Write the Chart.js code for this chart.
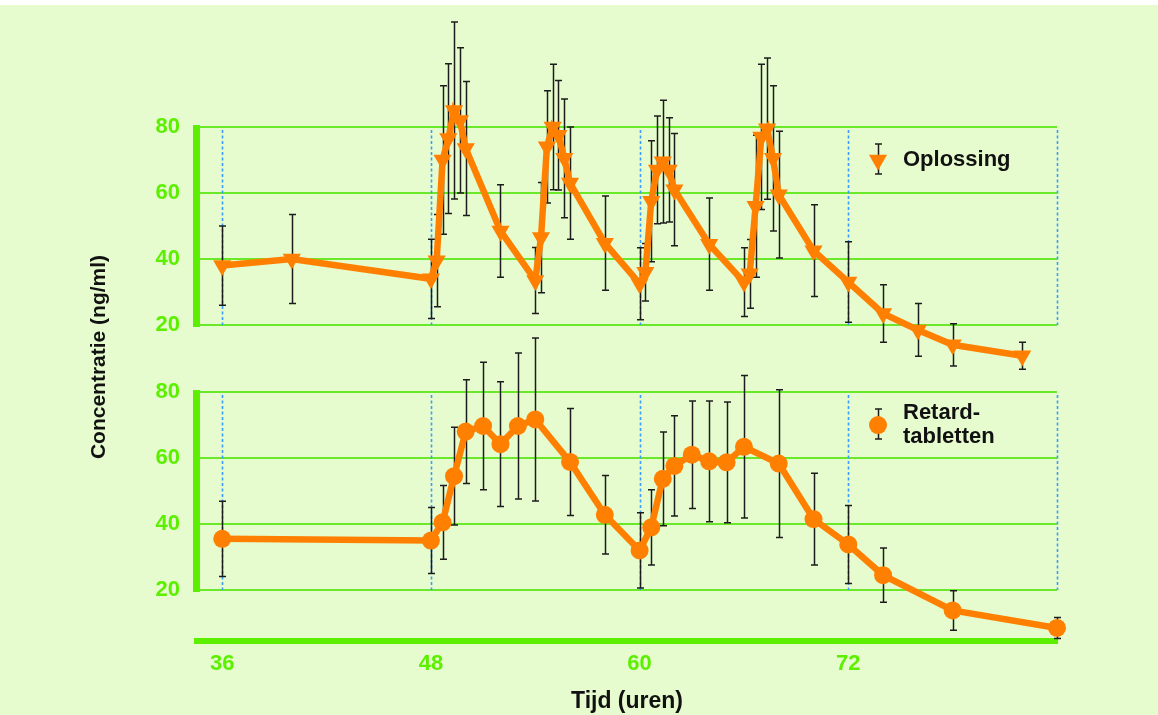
<!DOCTYPE html>
<html>
<head>
<meta charset="utf-8">
<script src="https://cdn.jsdelivr.net/npm/chart.js@4.4.1/dist/chart.umd.min.js"></script>
<style>
  html, body { margin: 0; padding: 0; background: #fff; }
  #wrap { width: 1158px; height: 715px; }
</style>
</head>
<body>
<div id="wrap"><canvas id="conc" width="1158" height="715"></canvas></div>
<script>
// Plasma concentration after oral solution vs. sustained-release tablets.

// Oplossing (oral solution) - hours, mean ng/ml, SD
const hoursOpl = [36, 40, 48, 48.33, 48.67, 49, 49.33, 49.67, 50, 52,
  54, 54.33, 54.67, 55, 55.33, 55.67, 56, 58,
  60, 60.33, 60.67, 61, 61.33, 61.67, 62, 64,
  66, 66.33, 66.67, 67, 67.33, 67.67, 68, 70,
  72, 74, 76, 78, 82];
const concOpl = [38, 40, 34, 39.5, 70, 76.5, 85, 82, 73.5, 48.5,
  33.5, 46.5, 74, 80, 77.5, 70.5, 63, 44.8,
  32.5, 36, 57.5, 67, 69.5, 67, 61, 44.5,
  33, 35.5, 56, 77, 79.5, 70.5, 59.5, 42.5,
  33, 23.5, 18.5, 14, 10.7];
const sdOpl = [12, 13.5, 12, 14, 22.5, 22.7, 26.8, 22, 20.3, 14,
  10, 16.7, 17, 19, 16.6, 18, 17, 14.3,
  10.9, 8.7, 18.3, 16.3, 18.6, 15.8, 17, 14,
  10.4, 10.4, 21.5, 22, 21.4, 22, 19.2, 13.9,
  12.2, 8.7, 8, 6.4, 4.1];

// Retard-tabletten (sustained release)
const hoursRet = [36, 48, 48.67, 49.33, 50, 51, 52, 53, 54, 56, 58,
  60, 60.67, 61.33, 62, 63, 64, 65, 66, 68, 70, 72, 74, 78, 84];
const concRet = [35.5, 35, 40.5, 54.5, 68, 69.7, 64.2, 69.7, 71.7, 58.8, 42.8,
  32, 39, 53.7, 57.6, 61, 59, 58.7, 63.4, 58.3, 41.5, 33.8, 24.5, 13.8, 8.5];
const sdRet = [11.4, 10, 11.2, 14.8, 15.7, 19.3, 18.9, 22.1, 24.7, 16.2, 11.9,
  11.4, 11.4, 14.2, 15.2, 16.3, 18.3, 18.3, 21.6, 22.4, 13.9, 11.8, 8.2, 6, 3.2];

const timeTicks = [36, 48, 60, 72];
const concTicks = [20, 40, 60, 80];
const dosingTimes = [36, 48, 60, 72, 84];

const GREEN = '#5cf000';
const GRID = '#6ae82a';
const ORANGE = '#ff8000';
const BG = '#e6fcce';
const SANS = "'Liberation Sans', Arial, sans-serif";

const pts = (xs, ys) => xs.map((x, i) => ({ x, y: ys[i] }));
const fixTicks = (list) => (scale) => { scale.ticks = list.map((v) => ({ value: v })); };

// background, panel frames, dosing markers, error bars and the two in-panel legends
const panels = {
  id: 'panels',
  afterLayout(chart) {
    // the lower axis shares the label column of the upper one
    const yb = chart.scales.yBot;
    yb.left = 0;
    yb.width = yb.right;
  },
  beforeDraw(chart) {
    const { ctx, width, height } = chart;
    ctx.save();
    ctx.fillStyle = '#fff';
    ctx.fillRect(0, 0, width, height);
    ctx.fillStyle = BG;
    ctx.fillRect(0, 5, width, height - 5);
    ctx.restore();
  },
  beforeDatasetsDraw(chart) {
    const { ctx, chartArea, scales } = chart;
    const x = scales.x;
    ctx.save();
    ['yTop', 'yBot'].forEach((id) => {
      const y = scales[id];
      const y80 = y.getPixelForValue(80);
      const y20 = y.getPixelForValue(20);
      // thick green axis bar
      ctx.fillStyle = GREEN;
      ctx.fillRect(chartArea.left - 4, y80 - 2, 7, y20 - y80 + 4);
      // dotted blue lines at dosing times
      ctx.strokeStyle = '#3a9cff';
      ctx.lineWidth = 1.6;
      ctx.setLineDash([3, 2.5]);
      dosingTimes.forEach((t) => {
        const px = Math.round(x.getPixelForValue(t)) + 0.5;
        ctx.beginPath();
        ctx.moveTo(px, y80 + 3);
        ctx.lineTo(px, y20);
        ctx.stroke();
      });
      ctx.setLineDash([]);
    });

    // error bars (mean +/- SD)
    ctx.strokeStyle = '#1c1c1c';
    ctx.lineWidth = 1.5;
    chart.data.datasets.forEach((ds, i) => {
      const meta = chart.getDatasetMeta(i);
      const y = scales[ds.yAxisID];
      meta.data.forEach((pt, j) => {
        const v = ds.data[j].y;
        const hi = y.getPixelForValue(v + ds.sd[j]);
        const lo = y.getPixelForValue(v - ds.sd[j]);
        const px = Math.round(pt.x) + 0.5;
        ctx.beginPath();
        ctx.moveTo(px, hi); ctx.lineTo(px, lo);
        ctx.moveTo(px - 3.5, hi); ctx.lineTo(px + 3.5, hi);
        ctx.moveTo(px - 3.5, lo); ctx.lineTo(px + 3.5, lo);
        ctx.stroke();
      });
    });
    ctx.restore();
  },
  afterDatasetsDraw(chart) {
    const { ctx, chartArea, scales } = chart;
    const mx = chartArea.right - 179;
    ctx.save();
    chart.data.datasets.forEach((ds) => {
      const cy = scales[ds.yAxisID].getPixelForValue(70);
      ctx.strokeStyle = '#1c1c1c';
      ctx.lineWidth = 1.5;
      ctx.beginPath();
      ctx.moveTo(mx + 0.5, cy - 16); ctx.lineTo(mx + 0.5, cy + 14);
      ctx.moveTo(mx - 3, cy - 16); ctx.lineTo(mx + 4, cy - 16);
      ctx.moveTo(mx - 3, cy + 14); ctx.lineTo(mx + 4, cy + 14);
      ctx.stroke();
      ctx.fillStyle = ORANGE;
      Chart.helpers.drawPoint(ctx, {
        pointStyle: ds.pointStyle, rotation: ds.pointRotation || 0,
        radius: ds.pointRadius, borderWidth: 0,
      }, mx, cy);
      ctx.fillStyle = '#111';
      ctx.font = `bold 22px ${SANS}`;
      ctx.textBaseline = 'middle';
      ctx.textAlign = 'left';
      const lines = ds.legendLines;
      const step = 24;
      lines.forEach((t, k) => {
        ctx.fillText(t, mx + 25, cy + (k - (lines.length - 1) / 2) * step);
      });
    });
    ctx.restore();
  },
};

const yCommon = {
  type: 'linear',
  position: 'left',
  afterBuildTicks: fixTicks(concTicks),
  grid: { color: GRID, lineWidth: 2, drawTicks: false },
  border: { display: false },
  ticks: { color: GREEN, padding: 17, font: { family: SANS, size: 22, weight: 'bold' } },
};

new Chart(document.getElementById('conc'), {
  type: 'line',
  data: {
    datasets: [
      {
        label: 'Oplossing', legendLines: ['Oplossing'],
        data: pts(hoursOpl, concOpl), sd: sdOpl, yAxisID: 'yTop',
        borderColor: ORANGE, backgroundColor: ORANGE, borderWidth: 6.5,
        pointStyle: 'triangle', pointRotation: 180, pointRadius: 10.5, pointBorderWidth: 0,
        tension: 0, clip: false,
      },
      {
        label: 'Retard-tabletten', legendLines: ['Retard-', 'tabletten'],
        data: pts(hoursRet, concRet), sd: sdRet, yAxisID: 'yBot',
        borderColor: ORANGE, backgroundColor: ORANGE, borderWidth: 6.5,
        pointStyle: 'circle', pointRadius: 9, pointBorderWidth: 0,
        tension: 0, clip: false,
      },
    ],
  },
  options: {
    responsive: false,
    animation: false,
    layout: { padding: { left: 0, right: 101, top: 73, bottom: 0 } },
    plugins: { legend: { display: false }, tooltip: { enabled: false } },
    scales: {
      x: {
        type: 'linear', min: 34.55, max: 84,
        afterBuildTicks: fixTicks(timeTicks),
        afterFit: (s) => { s.height = 74; },
        grid: { display: false, drawTicks: false },
        border: { color: GREEN, width: 6 },
        ticks: { color: GREEN, padding: 10, font: { family: SANS, size: 22, weight: 'bold' } },
        title: { display: true, text: 'Tijd (uren)', color: '#111', padding: 0,
          font: { family: SANS, size: 23, weight: 'bold' } },
      },
      yTop: {
        ...yCommon, weight: 1, min: -75.76, max: 96.36,
        afterFit: (s) => { s.width = 197; },
        title: { display: true, text: 'Concentratie (ng/ml)', color: '#111',
          padding: { top: 87, bottom: 0 }, font: { family: SANS, size: 21, weight: 'bold' } },
      },
      yBot: {
        ...yCommon, weight: 0, min: 4.55, max: 176.67,
        afterFit: (s) => { s.width = 0; },
      },
    },
  },
  plugins: [panels],
});
</script>
</body>
</html>
